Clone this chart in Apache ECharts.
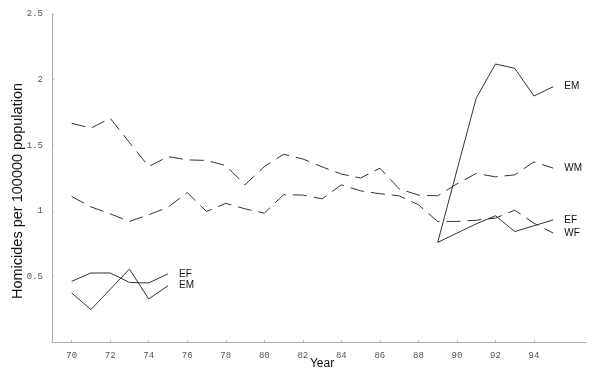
<!DOCTYPE html>
<html>
<head>
<meta charset="utf-8">
<script src="https://cdn.jsdelivr.net/npm/echarts@6/dist/echarts.min.js"></script>
<style>
	html, body { margin: 0; padding: 0; background: #fff; }
	#main { width: 600px; height: 374px; }
</style>
</head>
<body>
<div id="main"></div>
<script>
// years on the x axis (19xx)
var years = [70, 71, 72, 73, 74, 75, 76, 77, 78, 79, 80, 81, 82, 83, 84, 85, 86, 87, 88, 89, 90, 91, 92, 93, 94, 95];
var wm = [1.667, 1.63, 1.705, null, 1.337, 1.413, 1.388, 1.384, 1.345, 1.198, 1.337, 1.431, 1.395, 1.335, 1.28, 1.25, 1.325, 1.167, 1.12, 1.114, 1.205, 1.285, 1.259, 1.274, 1.373, 1.325];
var wf = [1.109, 1.03, 0.977, 0.919, 0.97, 1.027, 1.139, 0.995, 1.057, 1.015, 0.982, 1.122, 1.12, 1.091, 1.198, 1.152, 1.13, 1.114, 1.046, 0.919, 0.919, 0.928, 0.944, 1.005, 0.905, 0.83];

var yearsEarly = [70, 71, 72, 73, 74, 75];
var efEarly = [0.462, 0.526, 0.526, 0.454, 0.45, 0.52];
var emEarly = [0.374, 0.247, null, 0.556, 0.328, 0.429];

var yearsLate = [89, 90, 91, 92, 93, 94, 95];
var efLate = [0.759, 0.83, 0.9, 0.962, 0.842, 0.886, 0.931];
var emLate = [0.759, null, 1.858, 2.119, 2.086, 1.875, 1.946];

var xTicks = [70, 72, 74, 76, 78, 80, 82, 84, 86, 88, 90, 92, 94];

function pairs(xs, ys) {
	return xs.map(function (x, i) { return [x, ys[i]]; });
}

function line(name, xs, ys, dashed) {
	return {
		name: name,
		type: 'line',
		data: pairs(xs, ys),
		symbol: 'none',
		connectNulls: true,
		lineStyle: {
			color: '#333',
			width: 1,
			type: dashed ? [14, 7] : 'solid'
		},
		endLabel: {
			show: true,
			formatter: name,
			distance: 11,
			fontFamily: 'Liberation Sans',
			fontSize: 10,
			color: '#111'
		}
	};
}

var myChart = echarts.init(document.getElementById('main'));
var option = {
	animation: false,
	grid: { left: 52, right: 14, top: 14, bottom: 32, outerBoundsMode: 'none' },
	xAxis: {
		type: 'value',
		min: 68.98,
		max: 96.7,
		name: 'Year',
		nameLocation: 'middle',
		nameGap: 16,
		nameMoveOverlap: false,
		nameTextStyle: { fontFamily: 'Liberation Sans', fontSize: 12, color: '#111', padding: [0, 0, 0, 6] },
		axisLine: { lineStyle: { color: '#aaa' } },
		axisTick: { show: true, inside: true, length: 2, customValues: xTicks, lineStyle: { color: '#bbb' } },
		axisLabel: { customValues: xTicks, margin: 9, fontFamily: 'Liberation Mono', fontSize: 9, color: '#555' },
		splitLine: { show: false }
	},
	yAxis: {
		type: 'value',
		min: 0,
		max: 2.5,
		interval: 0.5,
		name: 'Homicides per 100000 population',
		nameLocation: 'middle',
		nameGap: 27,
		nameMoveOverlap: false,
		nameTextStyle: { fontFamily: 'Liberation Sans', fontSize: 14.5, color: '#111', padding: [0, 26, 0, 0] },
		axisLine: { show: true, lineStyle: { color: '#aaa' } },
		axisTick: { show: true, inside: true, length: 2, lineStyle: { color: '#bbb' } },
		minorTick: { show: true, splitNumber: 5, length: 1, lineStyle: { color: '#ccc' } },
		axisLabel: {
			margin: 9,
			fontFamily: 'Liberation Mono',
			fontSize: 9,
			color: '#555',
			formatter: function (v) { return v === 0 ? '' : String(v); }
		},
		splitLine: { show: false }
	},
	series: [
		line('WM', years, wm, true),
		line('WF', years, wf, true),
		line('EF', yearsEarly, efEarly, false),
		line('EM', yearsEarly, emEarly, false),
		line('EF', yearsLate, efLate, false),
		line('EM', yearsLate, emLate, false)
	]
};
myChart.setOption(option);
</script>
</body>
</html>
